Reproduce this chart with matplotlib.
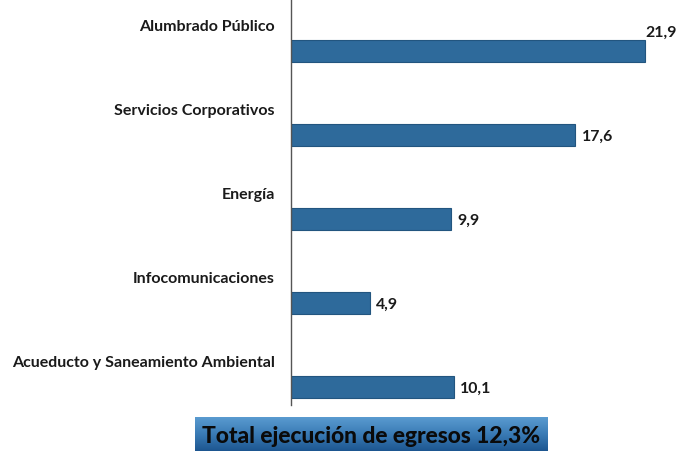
import matplotlib
matplotlib.use("Agg")
import matplotlib.pyplot as plt
import numpy as np
from matplotlib.colors import LinearSegmentedColormap

categories = ["Alumbrado Público", "Servicios Corporativos", "Energía",
              "Infocomunicaciones", "Acueducto y Saneamiento Ambiental"]
values = [21.9, 17.6, 9.9, 4.9, 10.1]
value_labels = ["21,9", "17,6", "9,9", "4,9", "10,1"]
banner_text = "Total ejecución de egresos 12,3%"

FONT = "Lato"
W, H = 678, 451
fig = plt.figure(figsize=(W / 100, H / 100), dpi=100)
fig.patch.set_facecolor("white")

# axes: x from 291 px to 678 px, y from 0 to 405 px
ax = fig.add_axes([291 / W, (H - 405) / H, (W - 291) / W, 405 / H])
scale = (645 - 291) / 21.9
xmax = (W - 291) / scale
ax.set_xlim(0, xmax)
spacing = 84.0
top_center = 51.0
ax.set_ylim((405 - top_center) / spacing, -top_center / spacing)

ypos = np.arange(len(categories))
ax.barh(ypos, values, height=22 / spacing, color="#2e6a9b",
        edgecolor="#22557f", linewidth=0.8)

for i, (cat, v, lab) in enumerate(zip(categories, values, value_labels)):
    ax.text(-16 / (W - 291), i - 24 / spacing, cat, transform=ax.get_yaxis_transform(),
            ha="right", va="center", fontsize=11.5, family=FONT,
            fontweight="bold", color="#1a1a1a", clip_on=False)
    # label that would overflow the right edge is lifted above the bar end
    if v + 36 / scale > xmax:
        ax.text(xmax - 1 / scale, i - 18 / spacing, lab, ha="right", va="center",
                fontsize=11.4, family=FONT, fontweight="bold", color="#1a1a1a")
    else:
        ax.text(v + 6 / scale, i + 2 / spacing, lab, ha="left", va="center",
                fontsize=11.4, family=FONT, fontweight="bold", color="#1a1a1a")

for s in ["top", "right", "bottom"]:
    ax.spines[s].set_visible(False)
ax.spines["left"].set_color("#555555")
ax.spines["left"].set_linewidth(1.0)
ax.set_xticks([])
ax.set_yticks([])
ax.patch.set_alpha(0)

# banner
bax = fig.add_axes([195 / W, 0, (548 - 195) / W, (H - 417) / H])
grad = np.linspace(0, 1, 100).reshape(-1, 1)
cmap = LinearSegmentedColormap.from_list("b", ["#5a9bd0", "#3a7bb5", "#1d5690"])
bax.imshow(grad, aspect="auto", cmap=cmap, extent=[0, 1, 0, 1])
bax.set_axis_off()
bax.text(0.5, 0.42, banner_text, ha="center", va="center", fontsize=16.4,
         family=FONT, fontweight="black", color="#0a0a0a",
         transform=bax.transAxes)

fig.savefig("out.png", dpi=100)
